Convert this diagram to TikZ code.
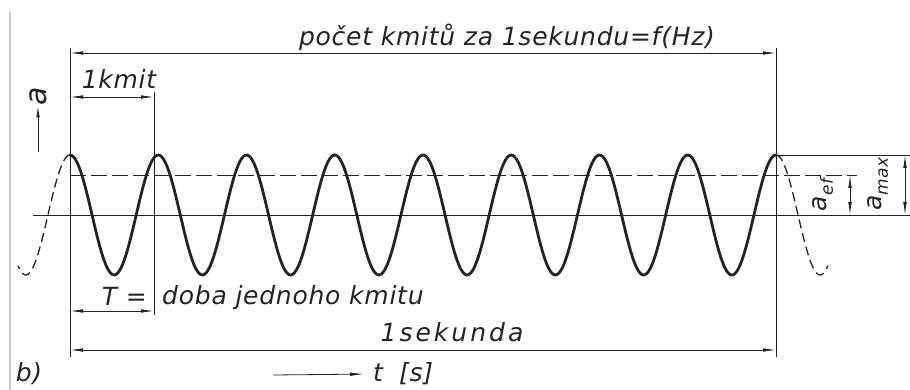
\documentclass[tikz,border=0pt]{standalone}
\usepackage{fontspec}
\setmainfont{DejaVu Sans}
\usetikzlibrary{arrows.meta, calc}
\definecolor{inkgray}{RGB}{35,35,35}
\definecolor{edgegray}{RGB}{200,200,200}

\begin{document}
\begin{tikzpicture}[x=1pt, y=-1pt,
  wave/.style={inkgray, line width=2.8pt, line cap=round},
  ghost/.style={inkgray, line width=1.3pt, dash pattern=on 9pt off 5pt},
  dim/.style={inkgray, line width=0.8pt},
  dimarr/.style={dim, {Latex[length=13pt,width=3.6pt]}-{Latex[length=13pt,width=3.6pt]}},
  lbl/.style={inkgray, font=\fontsize{25}{29}\selectfont\itshape\addfontfeatures{LetterSpace=3},
    inner sep=1pt}]
  \useasboundingbox (0,0) rectangle (910,390);
  % scanned page edge
  \draw[edgegray, line width=2pt] (10,12) -- (10,390);
  % Oscillation (8 periods in one second)
  \draw[wave] plot[domain=70:776, samples=400, smooth]
    (\x, {215-60*cos(((\x-70)/88.25)*360)});
  % continuation before and after
  \draw[ghost] plot[domain=70:18, samples=40, smooth]
    (\x, {215-60*cos(((\x-70)/88.25)*360)});
  \draw[ghost] plot[domain=776:828, samples=40, smooth]
    (\x, {215-60*cos(((\x-776)/88.25)*360)});
  % Extension lines
  \draw[dim] (70,48) -- (70,357);
  \draw[dim] (154,92) -- (154,315);
  \draw[dim] (776,48) -- (776,357);
  \draw[dim] (33,215) -- (910,215);
  \draw[dim, dash pattern=on 16pt off 5pt] (70,175) -- (857,175);
  \draw[dim] (776,155) -- (910,155);
  % Dimension ends
  \coordinate (f0) at (70,53);   \coordinate (f1) at (776,53);
  \coordinate (k0) at (70,97);   \coordinate (k1) at (154,97);
  \coordinate (t0) at (70,311);  \coordinate (t1) at (154,311);
  \coordinate (s0) at (70,350);  \coordinate (s1) at (776,350);
  \coordinate (e0) at (850,175); \coordinate (e1) at (850,215);
  \coordinate (m0) at (905,155); \coordinate (m1) at (905,215);
  \foreach \a/\b in {f0/f1, k0/k1, t0/t1, s0/s1, e0/e1, m0/m1}{
    \draw[dimarr] (\a) -- (\b);
  }
  % Labels
  \node[lbl] (freq) at (507,37) {počet kmitů za 1sekundu=f(Hz)};
  \node[lbl] (kmit) at (119,79) {1kmit};
  \node[lbl, anchor=east] (teq) at (148,296) {T =};
  \node[lbl, anchor=west] (doba) at (161,298) {doba jednoho kmitu};
  \node[lbl] (sek) at (452,332)
    {\addfontfeatures{LetterSpace=12}1sekunda};
  \node[lbl, rotate=90, font=\fontsize{30}{30}\selectfont\itshape] (alab) at (38,96) {a};
  \node[lbl, rotate=90] (aef) at (823,195)
    {a\raisebox{-6pt}{\fontsize{17}{17}\selectfont ef}};
  \node[lbl, rotate=90] (amax) at (878,184)
    {a\raisebox{-6pt}{\fontsize{17}{17}\selectfont max}};
  \node[lbl, anchor=west] (tlab) at (372,374) {t\hspace{16pt}[s]};
  \node[lbl] (part) at (29,374) {b)};
  % Axis arrows
  \coordinate (ay) at (38,152);
  \draw[dim, -{Latex[length=11pt,width=3.6pt]}] (ay) -- (alab.west);
  \coordinate (tx) at (273,375);
  \draw[dim, -{Latex[length=14pt,width=3.6pt]}, shorten >=8pt] (tx) -- (tlab.west);
\end{tikzpicture}
\end{document}
